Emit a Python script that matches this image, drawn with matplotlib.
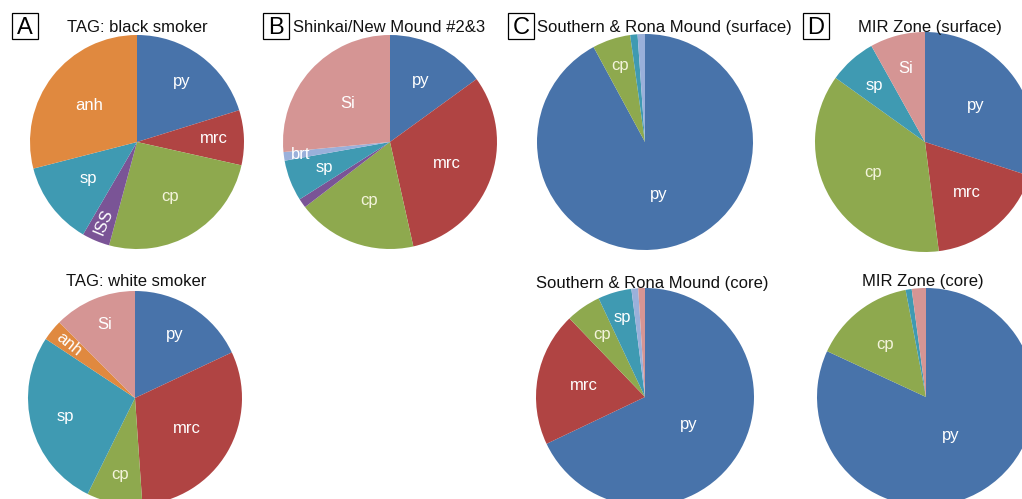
import numpy as np
import matplotlib
matplotlib.use("Agg")
import matplotlib.pyplot as plt
from matplotlib.patches import Rectangle

plt.rcParams['font.family'] = ['Liberation Sans', 'DejaVu Sans']

# ---------------- data (percent, clockwise from 12 o'clock) ----------------
tag_black_labels = ["py", "mrc", "cp", "ISS", "sp", "anh"]
tag_black_values = [20.2, 8.3, 25.7, 4.2, 12.6, 29.0]

shinkai_labels = ["py", "mrc", "cp", "ISS", "sp", "brt", "Si"]
shinkai_values = [15.0, 31.5, 18.1, 1.4, 6.2, 1.3, 26.5]

sr_surface_labels = ["py", "cp", "sp", "brt"]
sr_surface_values = [92.1, 5.7, 1.1, 1.1]

mir_surface_labels = ["py", "mrc", "cp", "sp", "Si"]
mir_surface_values = [30.0, 18.0, 36.9, 7.0, 8.1]

tag_white_labels = ["py", "mrc", "cp", "sp", "anh", "Si"]
tag_white_values = [18.0, 30.9, 8.4, 27.0, 3.2, 12.5]

sr_core_labels = ["py", "mrc", "cp", "sp", "brt", "Si"]
sr_core_values = [68.0, 19.9, 5.2, 5.0, 1.0, 1.0]

mir_core_labels = ["py", "cp", "sp", "Si"]
mir_core_values = [81.9, 15.1, 0.9, 2.1]

# which labels are shown (others are too small)
shown = {
    "A": ["py", "mrc", "cp", "ISS", "sp", "anh"],
    "B": ["py", "mrc", "cp", "sp", "brt", "Si"],
    "C": ["py", "cp"],
    "D": ["py", "mrc", "cp", "sp", "Si"],
    "Aw": ["py", "mrc", "cp", "sp", "anh", "Si"],
    "Cc": ["py", "mrc", "cp", "sp"],
    "Dc": ["py", "cp"],
}

# ---------------- styles ----------------
colors = {
    "py": "#4873AA", "mrc": "#B04443", "cp": "#8EA94E", "sp": "#3F9AB2",
    "anh": "#E0893F", "Si": "#D59594", "ISS": "#7A5496", "brt": "#9AB0DA",
}
label_color = {"cp": "#F4F4DC"}

W, H = 1022, 499
fig = plt.figure(figsize=(W / 100, H / 100), dpi=100)
fig.patch.set_facecolor("white")


def fx(px):
    return px / W


def fy(py):
    return 1 - py / H


# layout: centre (px), radius (px), label radial distances, rotated labels
layout = {
    "A": dict(c=(137, 142), r=107,
              d={"py": 0.70, "mrc": 0.72, "cp": 0.60, "ISS": 0.81, "sp": 0.57, "anh": 0.56},
              rot=["ISS"]),
    "B": dict(c=(390, 142), r=107,
              d={"py": 0.64, "mrc": 0.57, "cp": 0.58, "sp": 0.66, "brt": 0.84, "Si": 0.53},
              rot=[]),
    "C": dict(c=(645, 142), r=108, d={"py": 0.50, "cp": 0.75}, rot=[]),
    "D": dict(c=(925, 142), r=110,
              d={"py": 0.57, "mrc": 0.60, "cp": 0.55, "sp": 0.69, "Si": 0.69}, rot=[]),
    "Aw": dict(c=(135, 398), r=107,
               d={"py": 0.70, "mrc": 0.56, "cp": 0.73, "sp": 0.67, "anh": 0.80, "Si": 0.74},
               rot=["anh"]),
    "Cc": dict(c=(645, 397), r=109,
               d={"py": 0.47, "mrc": 0.57, "cp": 0.70, "sp": 0.76}, rot=[]),
    "Dc": dict(c=(926, 397), r=109, d={"py": 0.42, "cp": 0.61}, rot=[]),
}

datasets = {
    "A": (tag_black_labels, tag_black_values),
    "B": (shinkai_labels, shinkai_values),
    "C": (sr_surface_labels, sr_surface_values),
    "D": (mir_surface_labels, mir_surface_values),
    "Aw": (tag_white_labels, tag_white_values),
    "Cc": (sr_core_labels, sr_core_values),
    "Dc": (mir_core_labels, mir_core_values),
}

for key, (labels, values) in datasets.items():
    lay = layout[key]
    cx, cy = lay["c"]
    r = lay["r"] * 1.05
    ax = fig.add_axes([fx(cx - r), fy(cy + r), fx(2 * r), 2 * r / H])
    wedges, _ = ax.pie(values, colors=[colors[l] for l in labels],
                       startangle=90, counterclock=False, radius=1.0,
                       wedgeprops=dict(linewidth=0))
    ax.set_xlim(-1.05, 1.05)
    ax.set_ylim(-1.05, 1.05)
    ax.axis("off")
    for w, lab in zip(wedges, labels):
        if lab not in shown[key]:
            continue
        mid = np.deg2rad((w.theta1 + w.theta2) / 2)
        d = lay["d"][lab]
        x, y = d * np.cos(mid), d * np.sin(mid)
        rot = 0
        if lab in lay["rot"]:
            ang = np.rad2deg(mid)
            rot = ang + 180 if np.cos(mid) < 0 else ang
            rot = (rot + 180) % 360 - 180
        ax.text(x, y, lab, ha="center", va="center", fontsize=12,
                color=label_color.get(lab, "white"), rotation=rot,
                rotation_mode="anchor")

# ---------------- titles ----------------
titles = [
    ("TAG: black smoker", 137.5, 32),
    ("Shinkai/New Mound #2&3", 389, 32),
    ("Southern & Rona Mound (surface)", 664, 32),
    ("MIR Zone (surface)", 930, 32),
    ("TAG: white smoker", 136.5, 286),
    ("Southern & Rona Mound (core)", 652, 288),
    ("MIR Zone (core)", 923, 286),
]
for txt, x, y in titles:
    fig.text(fx(x), fy(y), txt, ha="center", va="baseline", fontsize=12, color="#111111")

panel_letters = ["A", "B", "C", "D"]
panel_box_x = [12, 263, 508, 803]
for letter, bx in zip(panel_letters, panel_box_x):
    fig.add_artist(Rectangle((fx(bx), fy(39)), fx(26), 26 / H, transform=fig.transFigure,
                             facecolor="white", edgecolor="black", linewidth=0.9))
    fig.text(fx(bx + 13), fy(34.5), letter, ha="center", va="baseline",
             fontsize=17, color="black")

fig.savefig("out.png", dpi=100, facecolor="white")
